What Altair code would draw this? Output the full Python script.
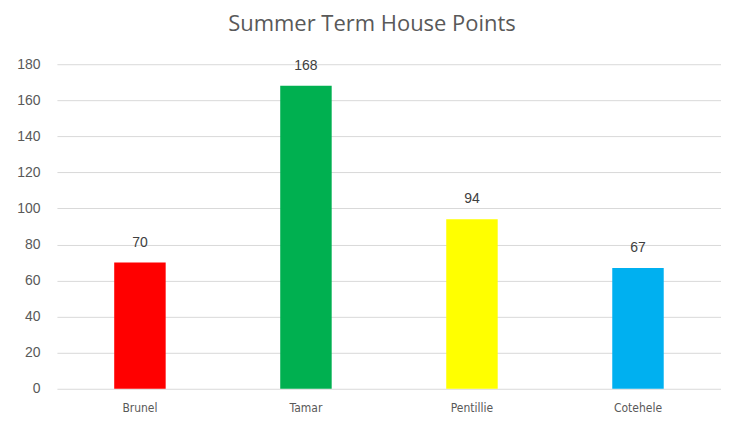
import altair as alt
import pandas as pd

houses = ["Brunel", "Tamar", "Pentillie", "Cotehele"]
points = [70, 168, 94, 67]
colors = ["#FF0000", "#00B050", "#FFFF00", "#00B0F0"]
y_ticks = [0, 20, 40, 60, 80, 100, 120, 140, 160, 180]

df = pd.DataFrame({"house": houses, "points": points, "color": colors})

x = alt.X("house:N", sort=houses, title=None,
          scale=alt.Scale(paddingInner=0.69, paddingOuter=0.345),
          axis=alt.Axis(labelAngle=0, ticks=False, domain=False, labelPadding=14,
                        labelFont="DejaVu Sans Condensed", labelFontSize=12,
                        labelColor="#595959"))
y = alt.Y("points:Q", title=None,
          scale=alt.Scale(domain=[0, 180]),
          axis=alt.Axis(values=y_ticks, tickCount=10, labelOverlap=False, ticks=False,
                        domain=False, labelPadding=17, labelFontSize=14,
                        labelColor="#595959", labelFont="Liberation Sans",
                        gridColor="#D9D9D9", gridWidth=1))

bars = alt.Chart(df).mark_bar().encode(
    x=x, y=y, color=alt.Color("color:N", scale=None)
)
labels = alt.Chart(df).mark_text(baseline="bottom", dy=-13, fontSize=14,
                                 color="#404040", font="Liberation Sans").encode(
    x=alt.X("house:N", sort=houses), y="points:Q", text="points:Q"
)

chart = (bars + labels).properties(
    width=665, height=325,
    background="white",
    autosize=alt.AutoSizeParams(type="none"),
    padding={"left": 49, "top": 56, "right": 0, "bottom": 30},
    title=alt.TitleParams("Summer  Term House Points", fontSize=22, font="Open Sans",
                          fontWeight="normal", color="#595959", anchor="middle",
                          dx=-17, offset=21),
).configure_view(stroke=None)

chart.save("out.html", embed_options={"renderer": "svg", "actions": False})
